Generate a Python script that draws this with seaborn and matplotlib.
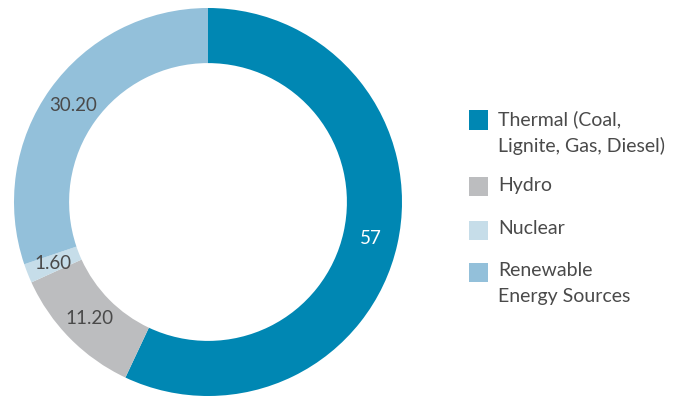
import matplotlib
matplotlib.use("Agg")
import matplotlib.pyplot as plt
import seaborn as sns
import numpy as np
from matplotlib.patches import Rectangle

categories = ["Thermal (Coal,\nLignite, Gas, Diesel)", "Hydro", "Nuclear", "Renewable\nEnergy Sources"]
values = [57, 11.20, 1.60, 30.20]
value_labels = ["57", "11.20", "1.60", "30.20"]
colors = ["#0087b3", "#bcbdbf", "#c6dde9", "#93c0da"]
label_colors = ["white", "#4a4a4a", "#4a4a4a", "#4a4a4a"]

sns.set_theme(style="white")
plt.rcParams["font.family"] = ["Lato", "DejaVu Sans"]

W, H = 684, 397
fig = plt.figure(figsize=(W / 100, H / 100), dpi=100)
cx, cy, R = 208, 195, 194
ax = fig.add_axes([(cx - R) / W, (cy - R) / H, 2 * R / W, 2 * R / H])

width = 0.284
wedges, _ = ax.pie(values, colors=colors, startangle=90, counterclock=False,
                   radius=1.0, wedgeprops=dict(width=width, edgecolor="none"))
ax.set_aspect("equal")
ax.set_xlim(-1, 1)
ax.set_ylim(-1, 1)
ax.axis("off")

rlab = 1 - width / 2
for w, lab, c in zip(wedges, value_labels, label_colors):
    ang = np.deg2rad((w.theta1 + w.theta2) / 2)
    ax.text(rlab * np.cos(ang), rlab * np.sin(ang), lab, ha="center", va="center",
            fontsize=13.5, color=c)

# legend
sq = 19
x_sq = 469
x_txt = 498
centers = [120, 187, 230, 272]
for cat, col, yc in zip(categories, colors, centers):
    fig.patches.append(Rectangle((x_sq / W, (H - yc - sq / 2) / H), sq / W, sq / H,
                                 transform=fig.transFigure, facecolor=col, edgecolor="none"))
    fig.text(x_txt / W, (H - yc + 10) / H, cat, ha="left", va="top", fontsize=14,
             color="#4a4a4a", linespacing=1.62)

fig.savefig("out.png", dpi=100)
